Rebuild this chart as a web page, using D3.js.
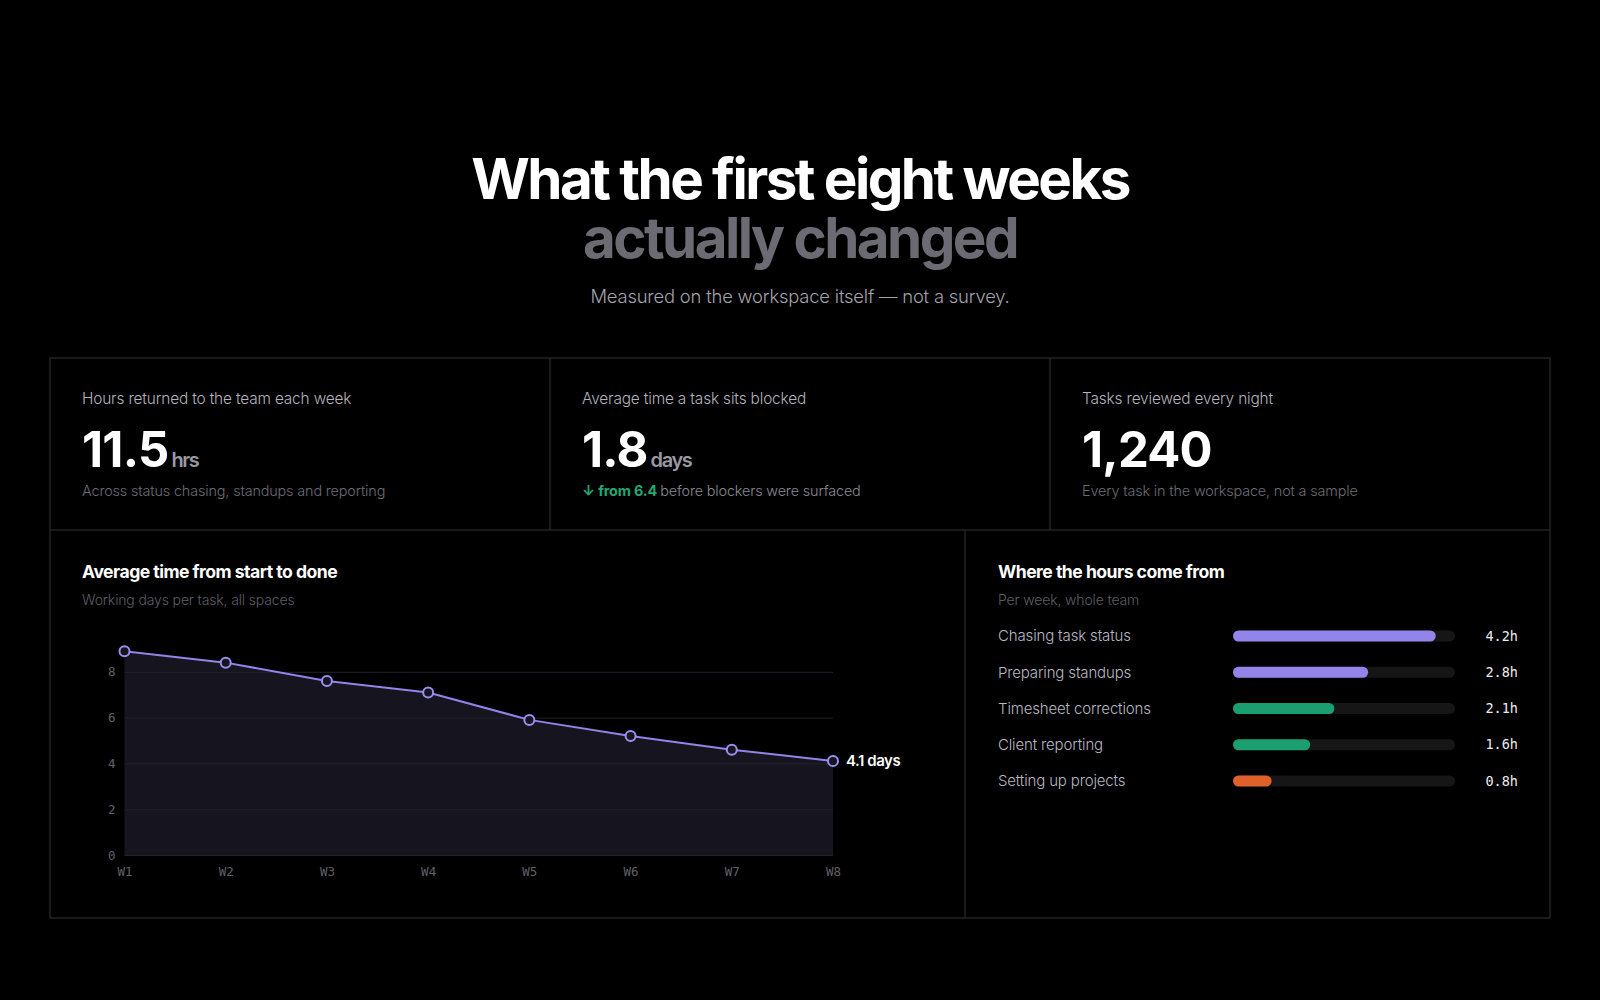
<!DOCTYPE html>
<html>
<head>
<meta charset="utf-8">
<script src="https://cdn.jsdelivr.net/npm/d3@7"></script>
<style>
  html, body { margin: 0; padding: 0; background: #000; }
  svg { display: block; }
  text { font-family: Inter, "Noto Sans", sans-serif; }
  .mono { font-family: "DejaVu Sans Mono", "Liberation Mono", monospace; }
</style>
</head>
<body>
<div id="chart"></div>
<script>
// Headline cards
const statLabels = ["Hours returned to the team each week", "Average time a task sits blocked", "Tasks reviewed every night"];
const statValues = ["11.5", "1.8", "1,240"];
const statUnits = ["hrs", "days", ""];
const statNotes = ["Across status chasing, standups and reporting", "before blockers were surfaced", "Every task in the workspace, not a sample"];
const blockedBefore = 6.4;

// Cycle time line chart
const weeks = ["W1", "W2", "W3", "W4", "W5", "W6", "W7", "W8"];
const cycleDays = [8.9, 8.4, 7.6, 7.1, 5.9, 5.2, 4.6, 4.1];
const dayTicks = [0, 2, 4, 6, 8];

// Hours breakdown
const sources = ["Chasing task status", "Preparing standups", "Timesheet corrections", "Client reporting", "Setting up projects"];
const sourceHours = [4.2, 2.8, 2.1, 1.6, 0.8];

const W = 1600, H = 1000;
const border = "#232326";
const barColors = ["#9284e8", "#9284e8", "#1b9f71", "#1b9f71", "#e0602c"];

const svg = d3.select("#chart").append("svg")
    .attr("width", W)
    .attr("height", H);

svg.append("rect").attr("width", W).attr("height", H).attr("fill", "#000");

// Title block: one text, two lines
const title = svg.append("text")
    .attr("text-anchor", "middle")
    .attr("font-size", 56.5).attr("font-weight", 700)
    .attr("letter-spacing", "-0.045em");
title.append("tspan")
    .attr("x", W / 2).attr("y", 199)
    .attr("fill", "#fff")
    .text("What the first eight weeks");
title.append("tspan")
    .attr("x", W / 2).attr("y", 258)
    .attr("fill", "#6c6b74")
    .text("actually changed");

svg.append("text")
    .attr("x", W / 2).attr("y", 303)
    .attr("text-anchor", "middle")
    .attr("fill", "#a3a3ab")
    .attr("font-size", 18.4).attr("font-weight", 300)
    .attr("letter-spacing", "-0.01em")
    .text("Measured on the workspace itself \u2014 not a survey.");

// Frame
const frame = {x0: 50, x1: 1550, y0: 358, ym: 530, y1: 918, split: 965};
const g = svg.append("g")
    .attr("fill", "none")
    .attr("stroke", border)
    .attr("stroke-width", 1.5);
g.append("rect")
    .attr("x", frame.x0).attr("y", frame.y0)
    .attr("width", frame.x1 - frame.x0).attr("height", frame.y1 - frame.y0);
g.append("line").attr("x1", frame.x0).attr("x2", frame.x1).attr("y1", frame.ym).attr("y2", frame.ym);
g.append("line").attr("x1", 550).attr("x2", 550).attr("y1", frame.y0).attr("y2", frame.ym);
g.append("line").attr("x1", 1050).attr("x2", 1050).attr("y1", frame.y0).attr("y2", frame.ym);
g.append("line").attr("x1", frame.split).attr("x2", frame.split).attr("y1", frame.ym).attr("y2", frame.y1);

// Stat cards
const cards = svg.selectAll(".card")
    .data(statLabels)
    .enter().append("g")
    .attr("class", "card")
    .attr("transform", (d, i) => `translate(${50 + i * 500 + 32},0)`);

cards.append("text")
    .attr("y", 404)
    .attr("fill", "#b4b4bc")
    .attr("font-size", 15.4).attr("font-weight", 300)
    .attr("letter-spacing", "-0.01em")
    .text(d => d);

const big = cards.append("text")
    .attr("y", 467)
    .attr("fill", "#fff")
    .attr("font-weight", 700)
    .attr("letter-spacing", "-0.05em");
big.append("tspan")
    .attr("font-size", 49)
    .text((d, i) => statValues[i]);
big.append("tspan")
    .attr("dx", 3)
    .attr("font-size", 20)
    .attr("font-weight", 600)
    .attr("fill", "#9a9aa4")
    .attr("letter-spacing", "-0.07em")
    .text((d, i) => statUnits[i]);

const note = cards.append("text")
    .attr("y", 496)
    .attr("font-size", 14.4).attr("font-weight", 300)
    .attr("letter-spacing", "-0.01em");
note.filter((d, i) => i === 1).append("tspan")
    .attr("fill", "#22a874")
    .attr("font-weight", 700)
    .text(`\u2193 from ${blockedBefore} `);
note.append("tspan")
    .attr("fill", (d, i) => i === 1 ? "#8a8a92" : "#6c6c74")
    .text((d, i) => statNotes[i]);

// Panel headings
function panelHead(x, title, sub) {
    svg.append("text")
        .attr("x", x).attr("y", 578)
        .attr("fill", "#fff")
        .attr("font-size", 17.6).attr("font-weight", 700)
        .attr("letter-spacing", "-0.03em")
        .text(title);
    svg.append("text")
        .attr("x", x).attr("y", 605)
        .attr("fill", "#5e5e66")
        .attr("font-size", 14).attr("font-weight", 300)
        .attr("letter-spacing", "-0.01em")
        .text(sub);
}
panelHead(82, "Average time from start to done", "Working days per task, all spaces");
panelHead(998, "Where the hours come from", "Per week, whole team");

// Line chart
const x = d3.scalePoint()
    .domain(weeks)
    .range([124.5, 833]);

const y = d3.scaleLinear()
    .domain([0, 10])
    .range([855, 626]);

const plot = svg.append("g");

plot.append("path")
    .datum(cycleDays)
    .attr("fill", "#15141f")
    .attr("d", d3.area()
        .x((d, i) => x(weeks[i]))
        .y0(y(0))
        .y1(d => y(d)));

const yAxis = plot.append("g")
    .attr("transform", `translate(${x.range()[0]},0)`)
    .call(d3.axisLeft(y)
        .tickValues(dayTicks)
        .tickSize(-(x.range()[1] - x.range()[0]))
        .tickPadding(9));
yAxis.select(".domain").remove();
yAxis.selectAll("line").attr("stroke", "#22212b").attr("stroke-width", 1);
yAxis.selectAll("text")
    .attr("class", "mono")
    .attr("fill", "#606068")
    .attr("font-size", 12.5);

const xAxis = plot.append("g")
    .attr("transform", `translate(0,${y(0)})`)
    .call(d3.axisBottom(x).tickSize(0).tickPadding(12));
xAxis.select(".domain").remove();
xAxis.selectAll("text")
    .attr("class", "mono")
    .attr("fill", "#606068")
    .attr("font-size", 12.5);

plot.append("path")
    .datum(cycleDays)
    .attr("fill", "none")
    .attr("stroke", "#9284e8")
    .attr("stroke-width", 2)
    .attr("d", d3.line()
        .x((d, i) => x(weeks[i]))
        .y(d => y(d)));

plot.selectAll(".pt")
    .data(cycleDays)
    .enter().append("circle")
    .attr("class", "pt")
    .attr("cx", (d, i) => x(weeks[i]))
    .attr("cy", d => y(d))
    .attr("r", 5)
    .attr("fill", "#15141f")
    .attr("stroke", "#9c90ee")
    .attr("stroke-width", 2);

const last = cycleDays.length - 1;
plot.append("text")
    .attr("x", x(weeks[last]) + 13)
    .attr("y", y(cycleDays[last]))
    .attr("dy", "0.35em")
    .attr("fill", "#fff")
    .attr("font-size", 15).attr("font-weight", 600)
    .attr("letter-spacing", "-0.03em")
    .text(`${cycleDays[last]} days`);

// Hours bars
const rowY = d3.scalePoint()
    .domain(sources)
    .range([636, 781]);

const bx = d3.scaleLinear()
    .domain([0, d3.max(sourceHours) * 1.095])
    .range([1233, 1455]);

const barH = 11;
const rows = svg.selectAll(".row")
    .data(sources)
    .enter().append("g")
    .attr("class", "row")
    .attr("transform", d => `translate(0,${rowY(d)})`);

rows.append("text")
    .attr("x", 998)
    .attr("dy", "0.35em")
    .attr("fill", "#b8b8c0")
    .attr("font-size", 15).attr("font-weight", 300)
    .attr("letter-spacing", "-0.01em")
    .text(d => d);

rows.append("rect")
    .attr("x", bx(0))
    .attr("y", -barH / 2)
    .attr("width", bx.range()[1] - bx(0))
    .attr("height", barH)
    .attr("rx", barH / 2)
    .attr("fill", "#161617");

rows.append("rect")
    .attr("x", bx(0))
    .attr("y", -barH / 2)
    .attr("width", (d, i) => bx(sourceHours[i]) - bx(0))
    .attr("height", barH)
    .attr("rx", barH / 2)
    .attr("fill", (d, i) => barColors[i]);

rows.append("text")
    .attr("class", "mono")
    .attr("x", 1518)
    .attr("dy", "0.35em")
    .attr("text-anchor", "end")
    .attr("fill", "#ececf0")
    .attr("font-size", 13.5)
    .text((d, i) => `${sourceHours[i]}h`);
</script>
</body>
</html>
